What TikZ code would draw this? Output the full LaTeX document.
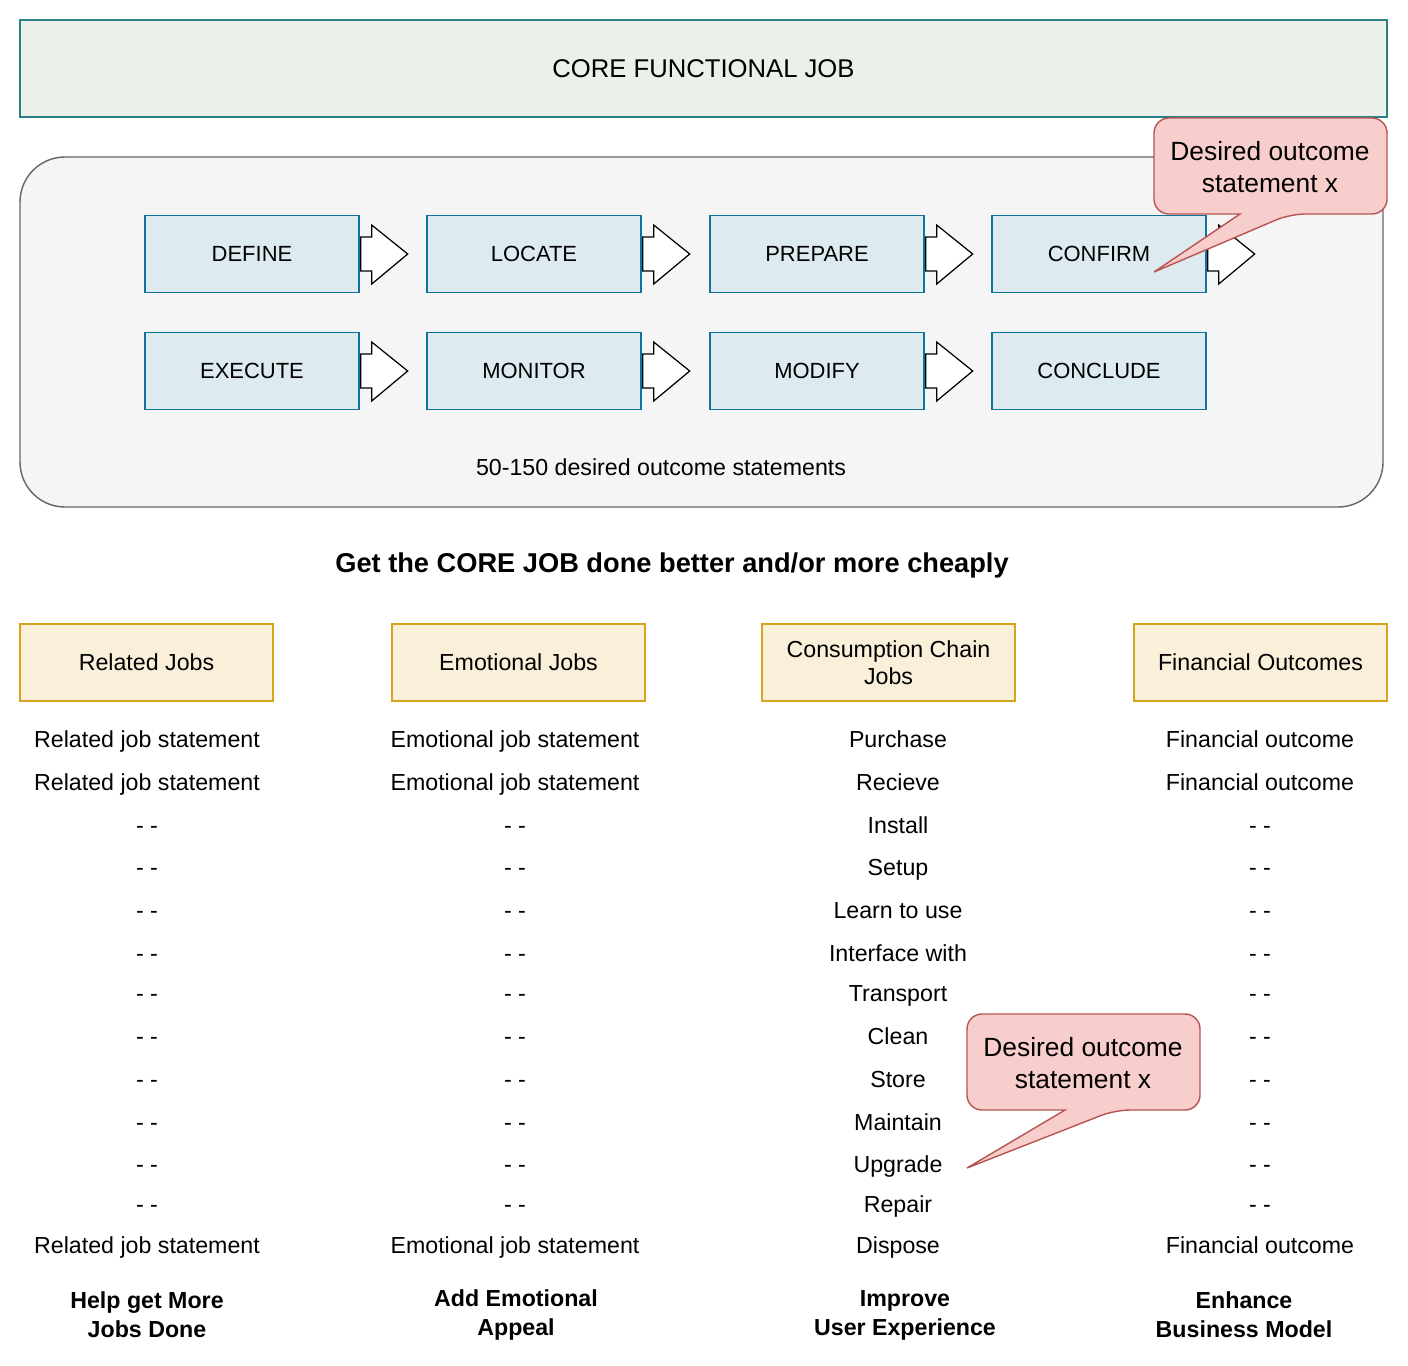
\documentclass[tikz,border=0pt]{standalone}
\usepackage{fontspec}
\setmainfont{Liberation Sans}
\begin{document}
\begin{tikzpicture}[x=0.02cm,y=-0.02cm,
  txt/.style={font=\fontsize{13.2}{15.5}\selectfont, align=center},
  btxt/.style={font=\fontsize{13.2}{16.5}\selectfont\bfseries, align=center},
  stepbox/.style={draw=stepline, fill=stepfill, line width=0.8pt, minimum width=4.28cm, minimum height=1.54cm, font=\fontsize{12.5}{15}\selectfont},
  catbox/.style={draw=catline, fill=catfill, line width=0.8pt, minimum width=5.06cm, minimum height=1.54cm, txt},
  arr/.style={draw=black, fill=white, line width=0.7pt},
  callout/.style={draw=callline, fill=callfill, line width=0.8pt, rounded corners=0.3cm},
  ctxt/.style={font=\fontsize{15}{18}\selectfont, align=center}]
\definecolor{stepline}{HTML}{10739E}
\definecolor{stepfill}{HTML}{DDEBF0}
\definecolor{catline}{HTML}{D6A520}
\definecolor{catfill}{HTML}{FAF0DA}
\definecolor{callline}{HTML}{B85450}
\definecolor{callfill}{HTML}{F8CECC}
\definecolor{topline}{HTML}{2D7F86}
\definecolor{topfill}{HTML}{EBF1EA}
\useasboundingbox (0,0) rectangle (1408,1365);
\node[draw=topline, fill=topfill, line width=0.8pt, minimum width=27.34cm, minimum height=1.94cm, font=\fontsize{14.6}{17}\selectfont] (core) at (703.5,68.5) {CORE FUNCTIONAL JOB};
\draw[draw=black!60, fill=black!4, line width=0.8pt, rounded corners=0.9cm] (20,157) rectangle (1383,507);
\foreach \n/\t/\x/\y in {d/DEFINE/252/254, l/LOCATE/534/254, p/PREPARE/817/254, c/CONFIRM/1099/254,
  e/EXECUTE/252/371, m/MONITOR/534/371, mo/MODIFY/817/371, co/CONCLUDE/1099/371}
  \node[stepbox] (\n) at (\x,\y) {\t};
\foreach \n in {d,l,p,c,e,m,mo}
  \draw[arr] ([xshift=0.02cm,yshift=0.34cm]\n.east) -- ++(11,0) -- ++(0,-12) -- ++(36,29) -- ++(-36,30) -- ++(0,-13) -- ++(-11,0) -- cycle;
\node[txt] (fifty) at (661,467) {50-150 desired outcome statements};
\node[font=\fontsize{15.5}{18}\selectfont\bfseries] (get) at (672,565) {Get the CORE JOB done better and/or more cheaply};
\node[catbox] (rel) at (146.5,662.5) {Related Jobs};
\node[catbox] (emo) at (518.5,662.5) {Emotional Jobs};
\node[catbox] (con) at (888.5,662.5) {Consumption Chain\\Jobs};
\node[catbox] (fin) at (1260.5,662.5) {Financial Outcomes};
\foreach \y/\a/\b/\c/\d in {740/Related job statement/Emotional job statement/Purchase/Financial outcome,
  783/Related job statement/Emotional job statement/Recieve/Financial outcome,
  826/- -/- -/Install/- -, 868/- -/- -/Setup/- -, 911/- -/- -/Learn to use/- -,
  954/- -/- -/Interface with/- -, 994/- -/- -/Transport/- -, 1037/- -/- -/Clean/- -,
  1080/- -/- -/Store/- -, 1123/- -/- -/Maintain/- -, 1165/- -/- -/Upgrade/- -,
  1205/- -/- -/Repair/- -, 1246/Related job statement/Emotional job statement/Dispose/Financial outcome}{
  \node[txt, anchor=base] at (147,\y+7) {\a};
  \node[txt, anchor=base] at (515,\y+7) {\b};
  \node[txt, anchor=base] at (898,\y+7) {\c};
  \node[txt, anchor=base] at (1260,\y+7) {\d};}
\node[btxt] (h1) at (147,1315) {Help get More\\Jobs Done};
\node[btxt] (h2) at (516,1315) {Add Emotional\\Appeal};
\node[btxt] (h3) at (905,1315) {Improve\\User Experience};
\node[btxt] (h4) at (1244,1315) {Enhance\\Business Model};
% callout 1
\draw[callout] (1154,118) -- (1387,118) -- (1387,214) -- (1290,214) [sharp corners] -- (1154,272) -- (1240,214) [rounded corners=0.3cm] -- (1154,214) -- cycle;
\node[ctxt] (c1) at (1270,167) {Desired outcome\\statement x};
% callout 2
\draw[callout] (967,1014) -- (1200,1014) -- (1200,1110) -- (1115,1110) [sharp corners] -- (967,1168) -- (1065,1110) [rounded corners=0.3cm] -- (967,1110) -- cycle;
\node[ctxt] (c2) at (1083,1063) {Desired outcome\\statement x};
\end{tikzpicture}
\end{document}
